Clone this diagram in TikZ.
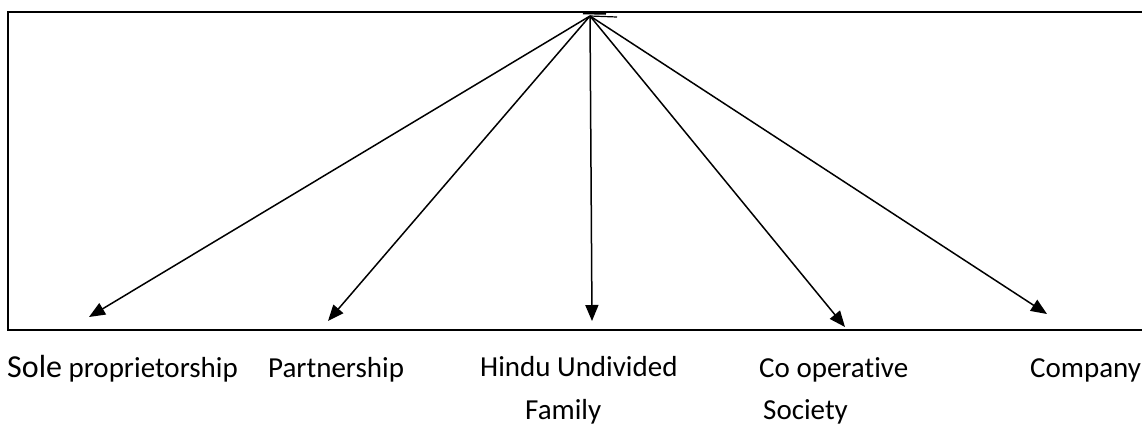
\documentclass[tikz,border=0pt]{standalone}
\usepackage{fontspec}
\setmainfont[Ligatures=NoCommon]{Carlito}
\usetikzlibrary{arrows.meta}
\begin{document}
\begin{tikzpicture}[x=1pt,y=-1pt,
  frame/.style={line width=2.2pt},
  conn/.style={line width=1.5pt,-{Triangle[length=16pt,width=13pt]}},
  lbl/.style={anchor=base west,inner sep=0pt,font=\fontsize{29}{34}\selectfont}]
\useasboundingbox (0,0) rectangle (1142,426);
\fill[white] (0,0) rectangle (1142,426);
\draw[frame] (1142,12) -- (8,12) -- (8,330) -- (1142,330);
\coordinate (apex) at (590,16);
\coordinate (t1) at (89,317);
\coordinate (t2) at (328,321);
\coordinate (t3) at (592,321);
\coordinate (t4) at (845,327);
\coordinate (t5) at (1047,314);
\coordinate (flick) at (617,17);
\draw[line width=2.5pt] (583,13) -- (606,13.5);
\draw[line width=1.2pt] (apex) -- (flick);
\foreach \t in {t1,t2,t3,t4,t5} \draw[conn] (apex) -- (\t);
\node[lbl] (sole) at (7,377) {{\fontsize{32}{36}\selectfont Sole} proprietorship};
\node[lbl] (part) at (268,377) {Partnership};
\node[lbl] (huf1) at (480,376) {Hindu Undivided};
\node[lbl] (huf2) at (525,419) {Family};
\node[lbl] (coop1) at (759,377) {Co operative};
\node[lbl] (coop2) at (763,419) {Society};
\node[lbl] (comp) at (1030,377) {Company};
\end{tikzpicture}
\end{document}
